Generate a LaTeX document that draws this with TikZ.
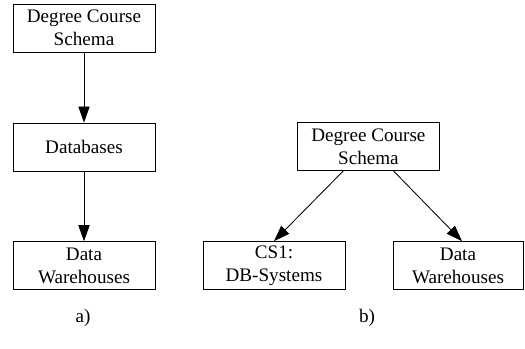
\documentclass[tikz,border=0pt]{standalone}
\usepackage{fontspec}
\setmainfont{Liberation Serif}
\usepackage{tikz}
\usetikzlibrary{arrows.meta,calc}

\begin{document}
\begin{tikzpicture}[font=\fontsize{13.6}{16.4}\selectfont,
  s/.style={draw,line width=0.6pt,minimum width=3.55cm,
            minimum height=1.2cm,align=center,inner sep=1pt},
  a/.style={-{Triangle[length=4mm,width=2.8mm]},line width=0.6pt}]
\useasboundingbox (0,0) rectangle (13.125,-8.725);
% a) chain
\node[s] (a1) at (2.1,-0.7) {Degree Course\\ Schema};
\node[s] (a2) at (2.1,-3.675) {Databases};
\node[s] (a3) at (2.1,-6.64) {Data\\ Warehouses};
\draw[a] (a1) -- (a2);
\draw[a] (a2) -- (a3);
% b) tree
\node[s] (b1) at (9.21,-3.66) {Degree Course\\ Schema};
\node[s] (b2) at (6.85,-6.64) {CS1:\\ DB-Systems};
\node[s,minimum width=3.25cm] (b3) at (11.45,-6.64) {Data\\ Warehouses};
\draw[a] ($(b1.south)!0.35!(b1.south west)$) -- (b2.north);
\draw[a] ($(b1.south)!0.35!(b1.south east)$) -- ($(b3.north)+(0.1,0)$);
% captions
\node (la) at (2.075,-7.95) {a)};
\node (lb) at (9.175,-7.95) {b)};
\end{tikzpicture}
\end{document}
